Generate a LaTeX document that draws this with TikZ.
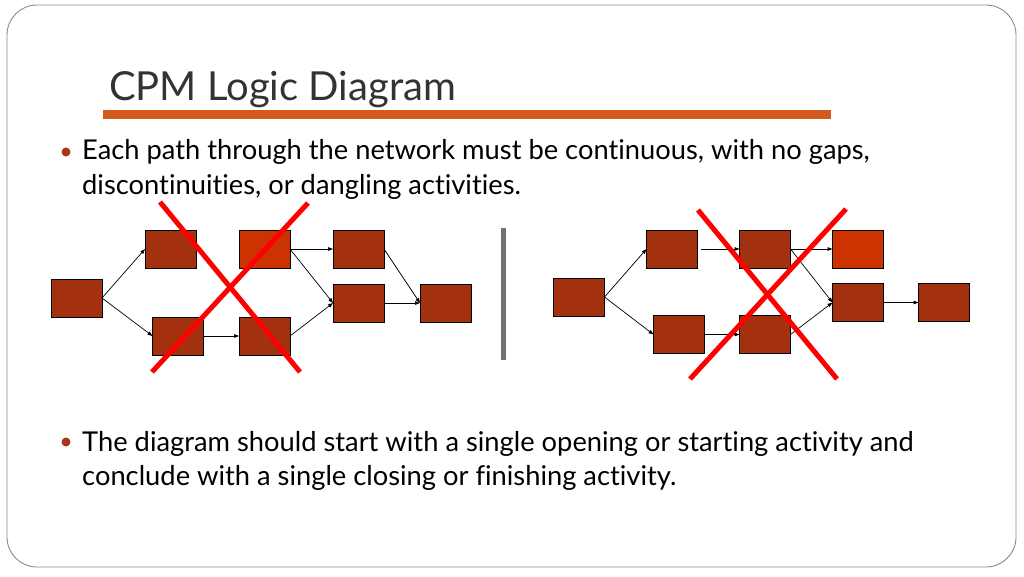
\documentclass[tikz,border=0pt]{standalone}
\usepackage{fontspec}
\setmainfont[Ligatures=NoCommon]{Lato}
\usetikzlibrary{arrows.meta}
\definecolor{boxfill}{HTML}{A3300F}
\definecolor{boxhot}{HTML}{CC3300}
\definecolor{barorange}{HTML}{D35A1D}
\definecolor{bulletred}{HTML}{A8361A}
\definecolor{titlegray}{HTML}{333333}
\definecolor{framegray}{HTML}{8A8A8A}
\tikzset{
  act/.style={draw=black, line width=0.8pt, fill=boxfill, minimum width=51pt, minimum height=38pt, inner sep=0pt, outer sep=0pt},
  hot/.style={act, fill=boxhot},
  link/.style={draw=black, line width=0.7pt, -{Triangle[length=5pt,width=3.6pt]}},
  cross/.style={draw=red, line width=5pt},
  bodytext/.style={anchor=base west, inner sep=0pt, font=\fontsize{27.3pt}{32pt}\selectfont, text=black},
  dot/.style={circle, fill=bulletred, inner sep=0pt, minimum size=9pt}
}
\begin{document}
\begin{tikzpicture}[x=1pt,y=-1pt]
\useasboundingbox (0,0) rectangle (1024,576);
% slide frame
\draw[framegray, line width=0.9pt, rounded corners=30pt] (7,5) rectangle (1016,567);
% title
\node[anchor=base west, inner sep=0pt, text=titlegray, font=\fontsize{40pt}{44pt}\selectfont] (title) at (109,100) {CPM Logic Diagram};
\fill[barorange] (103,110) rectangle (831,118.5);
% bullet 1
\node[dot] (b1) at (66,152) {};
\node[bodytext] (t1a) at (82,159) {Each path through the network must be continuous, with no gaps,};
\node[bodytext] (t1b) at (82,194) {discontinuities, or dangling activities.};
% bullet 2
\node[dot] (b2) at (66,442) {};
\node[bodytext] (t2a) at (82,451) {The diagram should start with a single opening or starting activity and};
\node[bodytext] (t2b) at (82,485) {conclude with a single closing or finishing activity.};

% left network
\node[act] (LA) at (76.5,298) {};
\node[act] (LB) at (170.5,249) {};
\node[hot] (LC) at (264.5,249) {};
\node[act] (LD) at (358.5,249) {};
\node[act] (LE) at (358.5,303) {};
\node[act] (LF) at (445.5,303) {};
\node[act] (LG) at (178,336) {};
\node[act] (LH) at (264.5,336) {};
\draw[link] (LA.east) -- (LB.west);
\draw[link] (LA.east) -- (LG.west);
\draw[link] (LG.east) -- (LH.west);
\draw[link] (LC.east) -- (LD.west);
\draw[link] (LC.east) -- (LE.west);
\draw[link] (LH.east) -- (LE.west);
\draw[link] (LD.east) -- (LF.west);
\draw[link] (LE.east) -- (LF.west);
\coordinate (LX1) at (160,202);
\coordinate (LX2) at (300,372);
\coordinate (LX3) at (308,203);
\coordinate (LX4) at (152,372);
\draw[cross] (LX1) -- (LX2);
\draw[cross] (LX3) -- (LX4);

% separator
\fill[gray!90!black] (501,228) rectangle (506,360);

% right network
\node[act] (RA) at (579,297) {};
\node[act] (RB) at (672,249) {};
\node[act] (RC) at (765,249) {};
\node[hot] (RD) at (858,249) {};
\node[act] (RE) at (858,302.5) {};
\node[act] (RF) at (944,302.5) {};
\node[act] (RG) at (679,334.5) {};
\node[act] (RH) at (765,334.5) {};
\draw[link] (RA.east) -- (RB.west);
\draw[link] (RA.east) -- (RG.west);
\draw[link, shorten <=3pt] (RB.east) -- (RC.west);
\draw[link] (RG.east) -- (RH.west);
\draw[link] (RC.east) -- (RD.west);
\draw[link] (RC.east) -- (RE.west);
\draw[link] (RH.east) -- (RE.west);
\draw[link] (RE.east) -- (RF.west);
\coordinate (RX1) at (698,210);
\coordinate (RX2) at (837,379);
\coordinate (RX3) at (846,209);
\coordinate (RX4) at (690,379);
\draw[cross] (RX1) -- (RX2);
\draw[cross] (RX3) -- (RX4);
\end{tikzpicture}
\end{document}
